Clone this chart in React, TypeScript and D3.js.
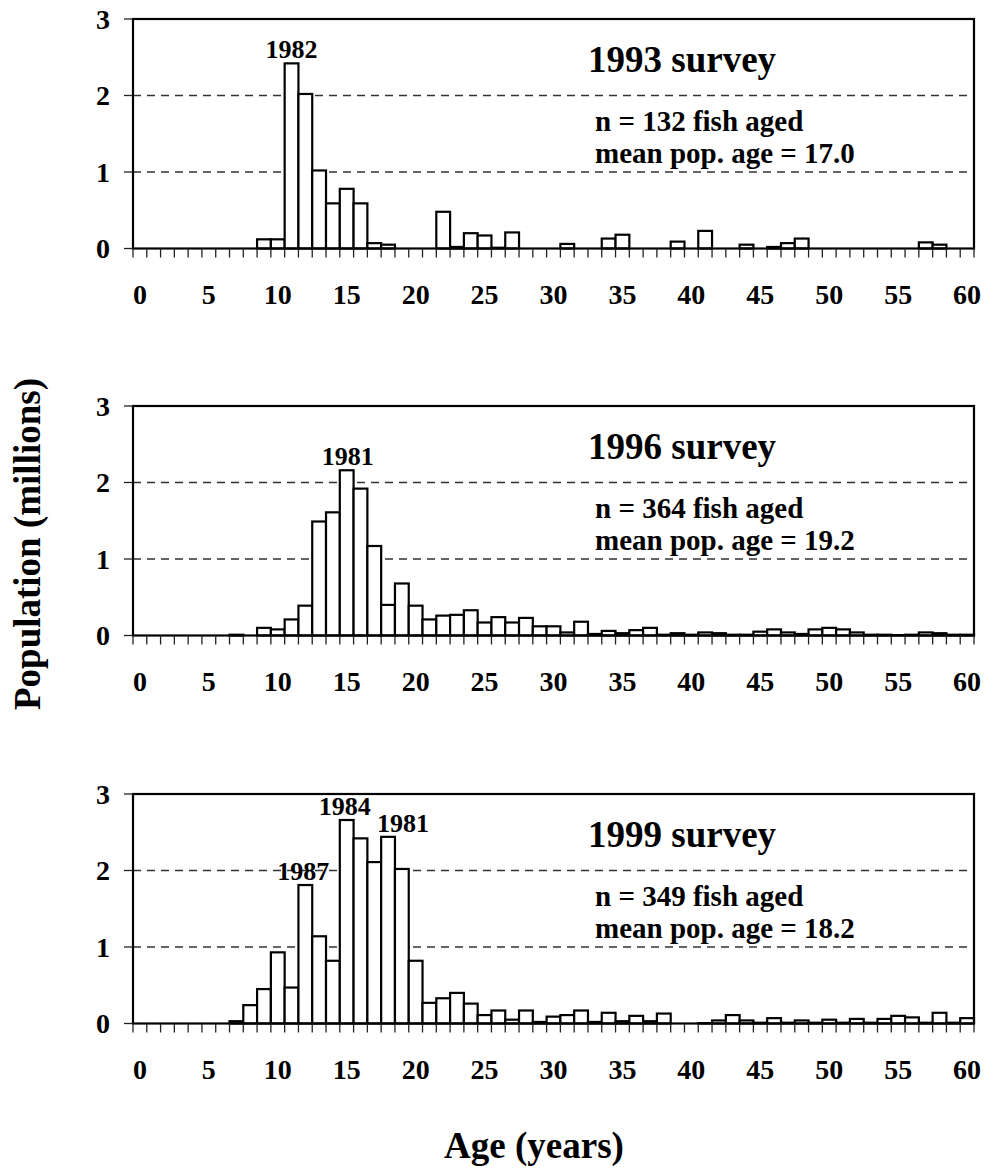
import React from "react";
import * as d3 from "d3";

const ages: number[] = d3.range(0, 61);
const xTickLabels = [0, 5, 10, 15, 20, 25, 30, 35, 40, 45, 50, 55, 60];
const yTickLabels = [0, 1, 2, 3];

const survey1993 = [
  0, 0, 0, 0, 0, 0, 0, 0, 0, 0.12, 0.12, 2.42, 2.02, 1.02, 0.59, 0.78, 0.59, 0.07, 0.05, 0, 0,
  0, 0.48, 0.02, 0.2, 0.17, 0.01, 0.21, 0, 0, 0, 0.06, 0, 0, 0.13, 0.18, 0, 0, 0, 0.09, 0,
  0.23, 0, 0, 0.05, 0, 0.02, 0.07, 0.13, 0, 0, 0, 0, 0, 0, 0, 0, 0.08, 0.05, 0, 0,
];
const survey1996 = [
  0, 0, 0, 0, 0, 0, 0, 0.01, 0, 0.1, 0.08, 0.21, 0.39, 1.49, 1.61, 2.16, 1.92, 1.17, 0.4, 0.68, 0.39,
  0.21, 0.26, 0.27, 0.33, 0.17, 0.24, 0.17, 0.23, 0.12, 0.12, 0.04, 0.18, 0.02, 0.06, 0.03, 0.07, 0.1, 0.01, 0.03, 0.01,
  0.04, 0.03, 0.01, 0.01, 0.05, 0.08, 0.04, 0.02, 0.08, 0.1, 0.08, 0.04, 0.01, 0.01, 0.005, 0.01, 0.04, 0.03, 0.01, 0.01,
];
const survey1999 = [
  0, 0, 0, 0, 0, 0, 0, 0.03, 0.24, 0.45, 0.93, 0.47, 1.81, 1.14, 0.82, 2.66, 2.42, 2.11, 2.44, 2.02, 0.82,
  0.27, 0.33, 0.4, 0.26, 0.11, 0.17, 0.05, 0.17, 0.02, 0.09, 0.11, 0.17, 0.02, 0.14, 0.03, 0.1, 0.03, 0.13, 0, 0,
  0.005, 0.04, 0.11, 0.04, 0.01, 0.07, 0.01, 0.04, 0.01, 0.05, 0.01, 0.06, 0.01, 0.06, 0.1, 0.08, 0.01, 0.14, 0.01, 0.07,
];

const panelTitles = ["1993 survey", "1996 survey", "1999 survey"];
const panelCounts = ["n = 132 fish aged", "n = 364 fish aged", "n = 349 fish aged"];
const panelMeans = ["mean pop. age = 17.0", "mean pop. age = 19.2", "mean pop. age = 18.2"];
const panelSeries = [survey1993, survey1996, survey1999];

// year-class annotations: panel index, label, age of the bar it marks
const annotationPanels = [0, 1, 2, 2, 2];
const annotationLabels = ["1982", "1981", "1987", "1984", "1981"];
const annotationAges = [11, 15, 12, 15, 18];

const FONT = "'Liberation Serif', 'Times New Roman', Times, serif";
const W = 988;
const H = 1169;
const LEFT = 133;
const RIGHT = 974;
const PANEL_TOPS = [19, 406, 794];
const PANEL_H = 229.5;
const annotationDx = [0, 1, -2, -2, 15];

export default function App() {
  const x = d3.scaleBand<number>().domain(ages).range([LEFT, RIGHT]).paddingInner(0).paddingOuter(0);
  const bw = x.bandwidth();

  return (
    <svg
      width={W}
      height={H}
      style={{ position: "absolute", left: 0, top: 0, background: "#fff" }}
      fontFamily={FONT}
      fontWeight="bold"
    >
      <rect x={0} y={0} width={W} height={H} fill="#fff" />
      {panelSeries.map((series, pi) => {
        const top = PANEL_TOPS[pi];
        const bottom = top + PANEL_H;
        const y = d3.scaleLinear().domain([0, 3]).range([bottom, top]);
        return (
          <g key={pi}>
            {/* dashed gridlines */}
            {[1, 2].map((v) => (
              <line
                key={"g" + v}
                x1={LEFT}
                x2={RIGHT}
                y1={y(v)}
                y2={y(v)}
                stroke="#333"
                strokeWidth={1.3}
                strokeDasharray="8,6"
              />
            ))}
            {/* bars */}
            {series.map((v, i) =>
              v > 0 ? (
                <rect
                  key={"b" + i}
                  x={x(ages[i])!}
                  y={y(v)}
                  width={bw}
                  height={y(0) - y(v)}
                  fill="#fff"
                  stroke="#000"
                  strokeWidth={2.2}
                />
              ) : null
            )}
            {/* frame */}
            <rect
              x={LEFT}
              y={top}
              width={RIGHT - LEFT}
              height={PANEL_H}
              fill="none"
              stroke="#000"
              strokeWidth={2.2}
            />
            {/* y ticks */}
            {yTickLabels.map((v) => (
              <g key={"y" + v}>
                <line x1={LEFT - 9} x2={LEFT} y1={y(v)} y2={y(v)} stroke="#222" strokeWidth={1.3} />
                <text x={110} y={y(v) + 9.5} textAnchor="end" fontSize={28}>
                  {v}
                </text>
              </g>
            ))}
            {/* x minor ticks at bin boundaries */}
            {ages.map((a) => (
              <line
                key={"t" + a}
                x1={x(a)!}
                x2={x(a)!}
                y1={bottom}
                y2={bottom + 9}
                stroke="#222"
                strokeWidth={1.3}
              />
            ))}
            <line x1={RIGHT} x2={RIGHT} y1={bottom} y2={bottom + 9} stroke="#222" strokeWidth={1.3} />
            {/* x labels */}
            {xTickLabels.map((v) => (
              <text key={"xl" + v} x={x(v)! + bw / 2} y={bottom + 55} textAnchor="middle" fontSize={28}>
                {v}
              </text>
            ))}
            {/* titles */}
            <text x={588} y={top + 53} fontSize={37}>
              {panelTitles[pi]}
            </text>
            <text x={595} y={top + 112} fontSize={29}>
              {panelCounts[pi]}
            </text>
            <text x={595} y={top + 144} fontSize={29}>
              {panelMeans[pi]}
            </text>
            {/* annotations */}
            {annotationPanels.map((p, ai) =>
              p === pi ? (
                <text
                  key={"a" + ai}
                  x={x(annotationAges[ai])! + bw / 2 + annotationDx[ai]}
                  y={y(series[annotationAges[ai]]) - 5}
                  textAnchor="middle"
                  fontSize={26}
                >
                  {annotationLabels[ai]}
                </text>
              ) : null
            )}
          </g>
        );
      })}
      <text
        transform={`translate(40, 544) rotate(-90)`}
        textAnchor="middle"
        fontSize={37}
      >
        Population (millions)
      </text>
      <text x={534} y={1158} textAnchor="middle" fontSize={37}>
        Age (years)
      </text>
    </svg>
  );
}
